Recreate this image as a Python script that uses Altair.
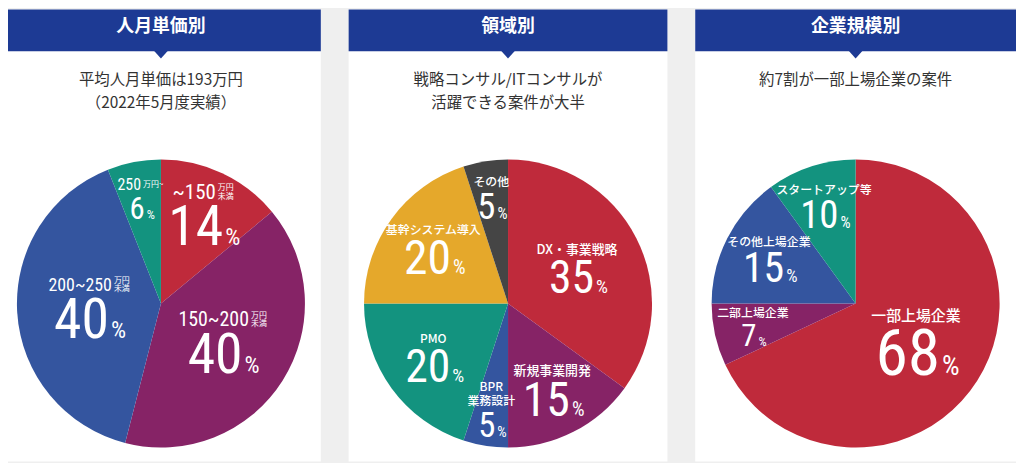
import altair as alt
import pandas as pd

# ---------------- data ----------------
P1_TITLE = "人月単価別"
P1_SUBTITLE = "平均人月単価は193万円\n（2022年5月度実績）"
P1_CATEGORIES = ["~150万円未満", "150~200万円未満", "200~250万円未満", "250万円~"]
P1_VALUES = [14, 40, 40, 6]
P1_LABEL_MAIN = ["~150", "150~200", "200~250", "250"]
P1_LABEL_UNIT = ["万円\n未満", "万円\n未満", "万円\n未満", "万円~"]

P2_TITLE = "領域別"
P2_SUBTITLE = "戦略コンサル/ITコンサルが\n活躍できる案件が大半"
P2_CATEGORIES = ["DX・事業戦略", "新規事業開発", "BPR業務設計", "PMO", "基幹システム導入", "その他"]
P2_VALUES = [35, 15, 5, 20, 20, 5]
P2_LABELS = ["DX・事業戦略", "新規事業開発", "BPR\n業務設計", "PMO", "基幹システム導入", "その他"]

P3_TITLE = "企業規模別"
P3_SUBTITLE = "約7割が一部上場企業の案件"
P3_CATEGORIES = ["一部上場企業", "二部上場企業", "その他上場企業", "スタートアップ等"]
P3_VALUES = [68, 7, 15, 10]
P3_LABELS = ["一部上場企業", "二部上場企業", "その他上場企業", "スタートアップ等"]

# ---------------- style ----------------
NAVY = "#1d3a94"
BG = "#efefef"
RED, PURPLE, BLUE, TEAL, GOLD, DARK = "#bf2a3b", "#862366", "#34559f", "#13937f", "#e5a82b", "#454545"
P1_COLORS = [RED, PURPLE, BLUE, TEAL]
P2_COLORS = [RED, PURPLE, BLUE, TEAL, GOLD, DARK]
P3_COLORS = [RED, PURPLE, BLUE, TEAL]
P1_NUM_SIZE = [56, 56, 56, 31]
P2_NUM_SIZE = [46, 48, 35, 46, 48, 37]
P3_NUM_SIZE = [66, 31, 42, 39]
P1_CAT_SIZE = [21, 20, 18, 16]
P2_CAT_SIZE = [13, 13, 12, 12, 12, 12]
P3_CAT_SIZE = [15, 12, 12, 12]

CJK = "Noto Sans CJK JP"
NUM_FONT = "Roboto Condensed"
DIGIT_W = 0.5      # digit advance of the condensed font, in em
PCT_W = 0.62       # '%' advance, in em

H = 455
CY = 296
R = 145
HEADER_H = 42
CAT_LH = 14
UNIT_LH = 8.5


def label_table(cats, values, num_size, cat_size, labels, units=None):
    rows = []
    for i, (c, v) in enumerate(zip(cats, values)):
        fs = num_size[i]
        ps = round(fs * 0.42)
        cs = cat_size[i]
        lab = labels[i]
        n_lines = lab.count("\n") + 1
        hc = 0.8 * cs + (n_lines - 1) * CAT_LH
        hd = 0.71 * fs
        block = hc + 7 + hd
        num = str(v)
        row = dict(
            cat=c, value=v, idx=i, num=num, pct="%", fs=fs, ps=ps, cs=cs, lab=lab,
            r=max(72.0, 113.0 - v),
            # vega puts the first line of a multi-line text at the anchor
            cdy=-block / 2 + hc - (n_lines - 1) * CAT_LH,
            ndy=block / 2,
            ndx=(len(num) * DIGIT_W * fs - PCT_W * ps) / 2,
        )
        if units is not None:
            u = units[i]
            u_lines = u.count("\n") + 1
            wm = len(lab) * DIGIT_W * cs
            wu = 16 if u_lines > 1 else 24
            block = 0.72 * cs + 7 + hd
            row["ndy"] = block / 2
            row["unit"] = u
            row["mdx"] = (wm - wu) / 2
            row["udx"] = (wm - wu) / 2 + 2
            row["cdy"] = -block / 2 + 0.72 * cs
            row["udy"] = row["cdy"] - (u_lines - 1) * UNIT_LH - (0 if u_lines > 1 else 3)
        rows.append(row)
    return pd.DataFrame(rows)


def make_panel(title, subtitle, cats, values, colors, width, cx, num_size, cat_size,
               labels, units=None):
    one = alt.Data(values=[{"k": 1}])
    bar = alt.Chart(one).mark_rect(color=NAVY).encode(
        x=alt.value(0), x2=alt.value(width), y=alt.value(0), y2=alt.value(HEADER_H))
    tri = alt.Chart(one).mark_point(
        shape="M-1,0L1,0L0,1.1Z", filled=True, size=196, color=NAVY, opacity=1,
        strokeWidth=0).encode(x=alt.value(cx), y=alt.value(HEADER_H - 0.5))
    ttl = alt.Chart(one).mark_text(
        font=CJK, fontSize=18, fontWeight="bold", color="white", align="center",
        baseline="middle").encode(x=alt.value(cx), y=alt.value(18), text=alt.value(title))
    sub = alt.Chart(one).mark_text(
        font=CJK, fontSize=15.5, color="#333333", align="center", baseline="middle",
        lineBreak="\n", lineHeight=23).encode(
        x=alt.value(cx), y=alt.value(71), text=alt.value(subtitle))

    df = label_table(cats, values, num_size, cat_size, labels, units)
    arcs = alt.Chart(df).mark_arc(outerRadius=R).encode(
        theta=alt.Theta("value:Q", stack=True),
        color=alt.Color("cat:N", scale=alt.Scale(domain=cats, range=colors), legend=None),
        order=alt.Order("idx:Q"),
        x=alt.value(cx), y=alt.value(CY),
    )
    base = alt.Chart(df).transform_window(
        cum="sum(value)", sort=[alt.SortField("idx")], frame=[None, 0]
    ).transform_calculate(
        mid="datum.cum - datum.value / 2"
    ).encode(
        theta=alt.Theta("mid:Q", stack=None),
        radius=alt.Radius("r:Q", scale=None),
        x=alt.value(cx), y=alt.value(CY),
    )
    num = base.mark_text(
        font=NUM_FONT, color="white", align="right", baseline="alphabetic",
        dx=alt.expr("datum.ndx"), dy=alt.expr("datum.ndy")).encode(
        text="num:N", size=alt.Size("fs:Q", scale=None))
    pct = base.mark_text(
        font=NUM_FONT, color="white", align="left", baseline="alphabetic",
        dx=alt.expr("datum.ndx + 2"), dy=alt.expr("datum.ndy")).encode(
        text="pct:N", size=alt.Size("ps:Q", scale=None))
    layers = [bar, tri, ttl, sub, arcs, num, pct]
    if units is None:
        cat = base.mark_text(
            font=CJK, fontWeight=500, color="white", align="center", baseline="alphabetic",
            lineBreak="\n", lineHeight=CAT_LH, dy=alt.expr("datum.cdy")).encode(
            text="lab:N", size=alt.Size("cs:Q", scale=None))
        layers.append(cat)
    else:
        main = base.mark_text(
            font=NUM_FONT, color="white", align="right", baseline="alphabetic",
            dx=alt.expr("datum.mdx"), dy=alt.expr("datum.cdy")).encode(
            text="lab:N", size=alt.Size("cs:Q", scale=None))
        unit = base.mark_text(
            font=CJK, fontSize=8, color="white", align="left", baseline="alphabetic",
            lineBreak="\n", lineHeight=UNIT_LH, dx=alt.expr("datum.udx"),
            dy=alt.expr("datum.udy")).encode(text="unit:N")
        layers += [main, unit]
    return alt.layer(*layers).properties(width=width, height=H)


p1 = make_panel(P1_TITLE, P1_SUBTITLE, P1_CATEGORIES, P1_VALUES, P1_COLORS, 315, 154,
                P1_NUM_SIZE, P1_CAT_SIZE, P1_LABEL_MAIN, P1_LABEL_UNIT)
p2 = make_panel(P2_TITLE, P2_SUBTITLE, P2_CATEGORIES, P2_VALUES, P2_COLORS, 321, 160.5,
                P2_NUM_SIZE, P2_CAT_SIZE, P2_LABELS)
p3 = make_panel(P3_TITLE, P3_SUBTITLE, P3_CATEGORIES, P3_VALUES, P3_COLORS, 323, 161.5,
                P3_NUM_SIZE, P3_CAT_SIZE, P3_LABELS)

chart = alt.hconcat(p1, p2, p3, spacing=28).resolve_scale(
    color="independent", theta="independent"
).properties(padding=0, background=BG).configure_view(fill="white", strokeWidth=0)

chart.save("out.html", embed_options={"renderer": "svg", "actions": False})
